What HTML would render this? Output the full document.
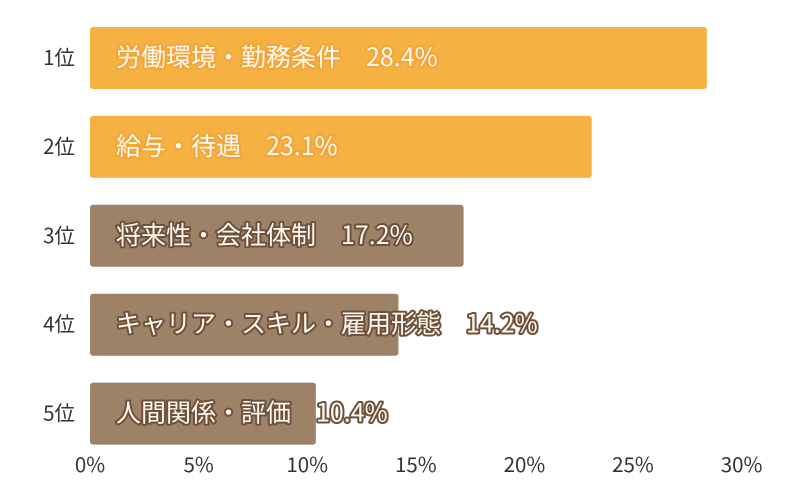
<!DOCTYPE html>
<html><head><meta charset="utf-8"><style>
body{margin:0;background:#fff;}
svg{display:block;font-family:"Noto Sans CJK JP","Liberation Sans",sans-serif;}
.lbl{font-size:25px;fill:#fffaf2;paint-order:stroke;stroke-width:4px;stroke-linejoin:round;}
</style></head><body>
<svg id="chart" width="799" height="498"></svg>
<script>
const ranks=["1位","2位","3位","4位","5位"];
const categories=["労働環境・勤務条件","給与・待遇","将来性・会社体制","キャリア・スキル・雇用形態","人間関係・評価"];
const values=[28.4,23.1,17.2,14.2,10.4];
const ticks=[0,5,10,15,20,25,30];
const svg=document.getElementById('chart');
const NS='http://www.w3.org/2000/svg';
const x0=90,kx=21.72;
function xs(v){return x0+v*kx;}
function ys(i){return 27+i*88.9;}
const bh=62;
function mk(t,a){const e=document.createElementNS(NS,t);for(const k in a)e.setAttribute(k,a[k]);svg.appendChild(e);return e;}
values.forEach((v,i)=>{
  const top=i<2;
  const fill=top?'#f5b142':'#9e8268';
  const stroke=top?'#f3a53a':'#6e513b';
  const y=ys(i);
  const r=mk('rect',{x:x0,y:y,width:xs(v)-x0,height:bh,rx:3,fill:fill});
  
  
  const rl=mk('text',{x:75,y:y+bh/2+7,'text-anchor':'end','font-size':20.5,fill:'#333'});
  rl.textContent=ranks[i];
  
  
  const t=mk('text',{x:116,y:y+bh/2+8,class:'lbl',stroke:stroke});
  t.textContent=categories[i]+'\u3000'+v.toFixed(1)+'%';
  
  
});
ticks.forEach(v=>{
  const t=mk('text',{x:xs(v),y:472,'text-anchor':'middle','font-size':20.5,fill:'#333'});
  t.textContent=v+'%';
  
  
});
</script>
</body></html>
